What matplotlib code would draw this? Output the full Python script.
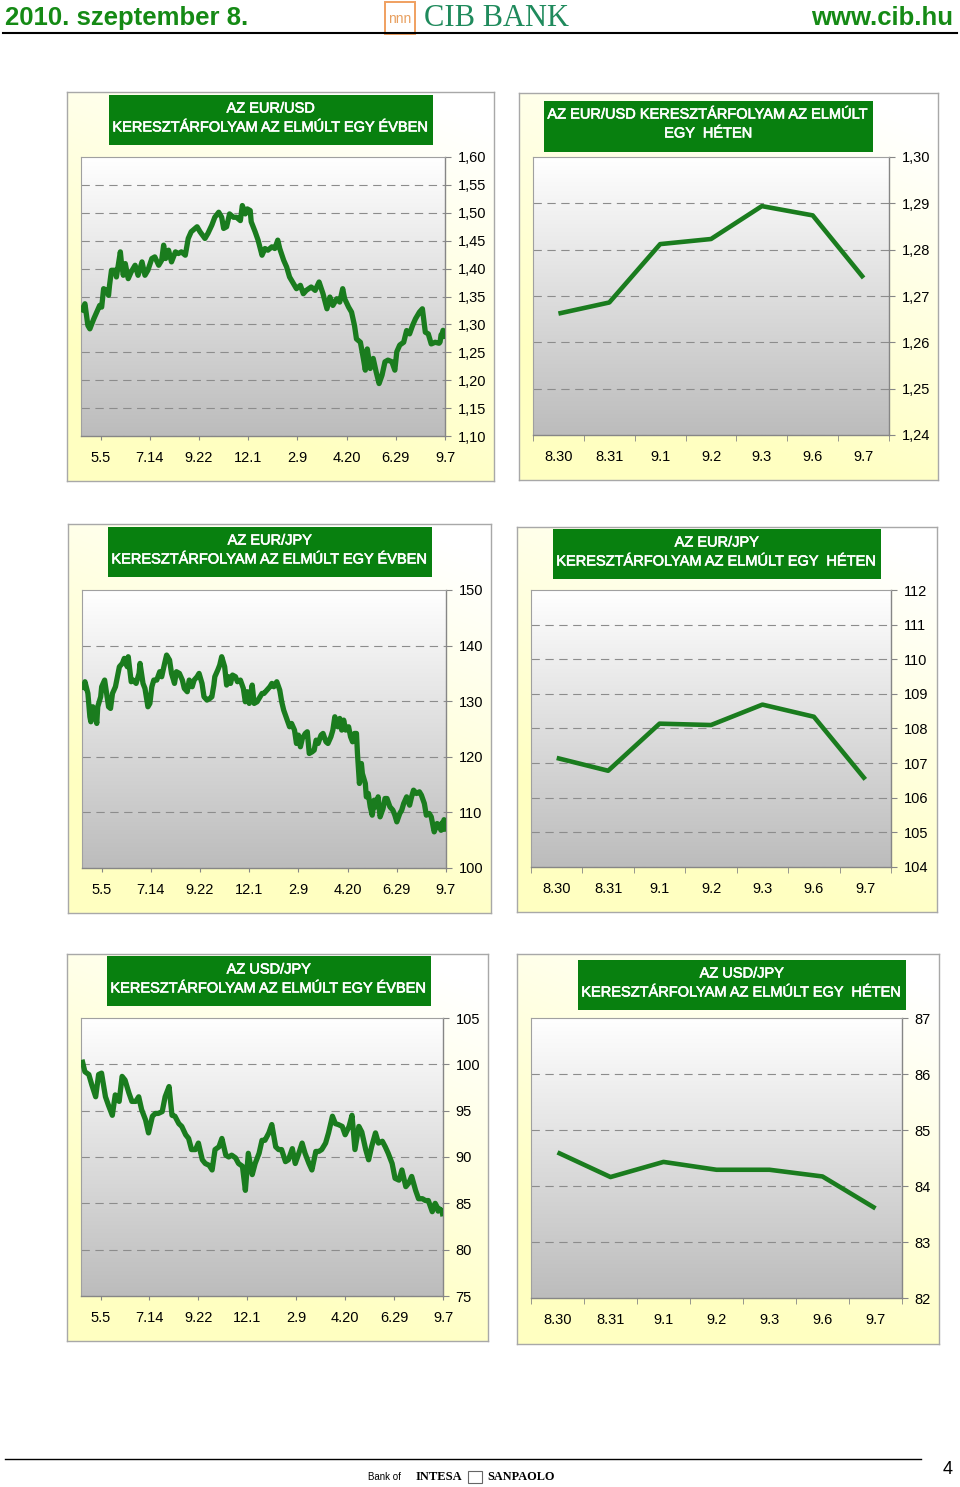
import numpy as np
import matplotlib.pyplot as plt
import matplotlib.patheffects as pe
from matplotlib.patches import Rectangle
from matplotlib.lines import Line2D
from matplotlib.colors import LinearSegmentedColormap

plt.rcParams['font.family'] = ['Liberation Sans', 'DejaVu Sans']

# ---- data -------------------------------------------------------------
year_tick_days = [20, 70, 120, 170, 220, 270, 320, 370]
year_labels = ['5.5', '7.14', '9.22', '12.1', '2.9', '4.20', '6.29', '9.7']
week_labels = ['8.30', '8.31', '9.1', '9.2', '9.3', '9.6', '9.7']

# EUR/USD, last year (business day index, rate)
eurusd_year_day = [
    0, 4, 7, 9, 13, 16, 19, 21, 23, 26,
    28, 29, 31, 35, 36, 40, 41, 43, 45, 48,
    51, 55, 58, 62, 65, 68, 72, 75, 79, 82,
    84, 86, 89, 92, 96, 99, 102, 106, 109, 112,
    118, 121, 126, 129, 133, 136, 140, 143, 145, 148,
    151, 155, 158, 162, 164, 167, 169, 172, 173, 177,
    180, 184, 187, 190, 194, 197, 200, 202, 206, 209,
    212, 216, 219, 223, 226, 229, 234, 238, 242, 246,
    250, 253, 256, 260, 263, 266, 268, 272, 275, 278,
    280, 284, 287, 289, 291, 294, 297, 300, 303, 306,
    309, 312, 316, 319, 321, 324, 328, 331, 334, 337,
    340, 344, 347, 350, 353, 356, 360, 364, 365, 366,
    367, 368, 369, 370]
eurusd_year_val = [
    1.322, 1.337, 1.298, 1.292, 1.310, 1.322, 1.334, 1.331, 1.364, 1.361,
    1.352, 1.370, 1.397, 1.397, 1.385, 1.430, 1.412, 1.388, 1.409, 1.382,
    1.394, 1.406, 1.388, 1.412, 1.388, 1.397, 1.418, 1.421, 1.406, 1.415,
    1.442, 1.418, 1.433, 1.412, 1.430, 1.427, 1.430, 1.424, 1.454, 1.466,
    1.475, 1.466, 1.454, 1.463, 1.478, 1.492, 1.501, 1.492, 1.472, 1.475,
    1.498, 1.492, 1.492, 1.486, 1.513, 1.498, 1.507, 1.504, 1.484, 1.466,
    1.451, 1.424, 1.436, 1.433, 1.439, 1.436, 1.451, 1.436, 1.415, 1.403,
    1.385, 1.373, 1.364, 1.370, 1.355, 1.361, 1.367, 1.361, 1.376, 1.355,
    1.328, 1.349, 1.334, 1.346, 1.340, 1.364, 1.346, 1.331, 1.322, 1.298,
    1.274, 1.268, 1.239, 1.218, 1.256, 1.221, 1.239, 1.215, 1.194, 1.209,
    1.233, 1.236, 1.233, 1.218, 1.251, 1.263, 1.268, 1.289, 1.283, 1.298,
    1.310, 1.322, 1.328, 1.286, 1.283, 1.265, 1.268, 1.2662, 1.2686, 1.2812,
    1.2823, 1.2894, 1.2874, 1.2739]
eurusd_week = [1.2662, 1.2686, 1.2812, 1.2823, 1.2894, 1.2874, 1.2739]

# EUR/JPY, last year
eurjpy_year_day = [
    1, 3, 6, 8, 9, 11, 13, 15, 16, 19,
    20, 23, 25, 27, 29, 31, 34, 36, 38, 41,
    43, 46, 47, 50, 52, 55, 58, 59, 62, 64,
    67, 69, 71, 73, 76, 79, 81, 84, 86, 89,
    91, 94, 96, 99, 102, 104, 107, 109, 112, 114,
    117, 119, 122, 124, 127, 130, 132, 134, 135, 138,
    140, 142, 145, 147, 149, 151, 153, 156, 158, 161,
    164, 166, 168, 170, 173, 175, 178, 180, 183, 185,
    188, 191, 193, 195, 198, 201, 203, 205, 208, 211,
    213, 216, 218, 220, 222, 224, 227, 229, 231, 234,
    236, 238, 240, 243, 245, 248, 250, 253, 255, 257,
    260, 262, 264, 266, 268, 271, 273, 275, 277, 279,
    280, 282, 284, 285, 288, 289, 291, 293, 295, 297,
    299, 301, 303, 306, 308, 310, 313, 316, 318, 320,
    323, 325, 327, 330, 333, 335, 337, 340, 343, 345,
    348, 350, 353, 355, 358, 361, 364, 365, 366, 367,
    368, 369, 370]
eurjpy_year_val = [
    132.0, 133.5, 131.4, 127.2, 126.3, 129.0, 128.1, 126.0, 129.0, 130.8,
    132.6, 133.8, 131.4, 129.0, 128.7, 131.4, 132.6, 134.4, 136.2, 136.8,
    137.7, 136.2, 138.0, 133.5, 133.8, 133.2, 135.0, 136.8, 133.2, 132.3,
    129.0, 129.6, 132.6, 133.8, 133.8, 135.3, 134.4, 136.8, 138.3, 137.4,
    135.0, 133.2, 135.3, 135.0, 133.8, 132.3, 131.7, 133.8, 132.6, 133.8,
    134.4, 135.0, 133.2, 130.8, 130.2, 130.5, 130.8, 132.9, 134.4, 135.6,
    136.5, 138.0, 136.2, 132.9, 134.4, 133.2, 134.7, 134.4, 133.5, 133.8,
    132.3, 129.9, 131.7, 129.6, 132.9, 129.6, 129.9, 130.5, 131.4, 131.4,
    132.0, 132.6, 133.2, 132.6, 133.5, 132.0, 129.9, 128.4, 126.9, 125.4,
    126.0, 124.8, 122.4, 123.9, 121.8, 123.3, 124.2, 124.5, 120.6, 120.9,
    121.2, 123.0, 122.4, 123.9, 124.2, 122.7, 122.4, 123.6, 124.8, 127.2,
    125.4, 126.9, 124.8, 126.6, 124.8, 125.4, 123.6, 122.7, 124.2, 124.2,
    120.6, 115.2, 118.8, 117.0, 115.2, 112.8, 113.4, 111.0, 109.5, 112.2,
    111.0, 112.8, 109.2, 110.7, 112.5, 112.5, 111.0, 110.4, 109.5, 108.3,
    109.8, 110.4, 111.6, 112.8, 111.3, 112.8, 114.0, 113.4, 113.7, 113.1,
    111.6, 109.5, 109.8, 109.2, 106.5, 108.0, 107.15, 106.78, 108.14, 108.10,
    108.69, 108.34, 106.53]
eurjpy_week = [107.15, 106.78, 108.14, 108.10, 108.69, 108.34, 106.53]

# USD/JPY, last year
usdjpy_year_day = [
    1, 4, 8, 11, 15, 18, 21, 25, 28, 32,
    35, 39, 42, 45, 49, 52, 56, 59, 62, 66,
    69, 73, 76, 79, 83, 86, 90, 93, 96, 100,
    103, 107, 110, 113, 117, 120, 124, 127, 131, 134,
    137, 141, 144, 148, 151, 154, 158, 161, 165, 168,
    171, 175, 178, 182, 185, 188, 192, 195, 199, 202,
    205, 209, 212, 216, 219, 222, 226, 229, 233, 236,
    240, 243, 246, 250, 253, 257, 260, 263, 267, 270,
    274, 277, 280, 284, 287, 291, 294, 297, 301, 304,
    308, 311, 314, 318, 321, 325, 328, 332, 335, 338,
    342, 345, 349, 352, 355, 359, 362, 364, 365, 366,
    367, 368, 369, 370]
usdjpy_year_val = [
    100.5, 99.2, 98.9, 97.8, 96.5, 98.9, 99.05, 96.5, 95.6, 94.5,
    96.7, 96.0, 98.7, 98.3, 96.9, 96.0, 96.0, 96.5, 95.1, 94.0,
    92.6, 94.4, 94.7, 94.7, 94.9, 96.5, 97.6, 94.5, 94.4, 93.6,
    93.3, 92.4, 92.0, 90.8, 90.8, 91.5, 89.7, 89.3, 89.1, 88.6,
    90.8, 91.1, 92.0, 90.2, 90.0, 90.2, 89.9, 89.3, 89.0, 86.4,
    90.4, 88.1, 89.3, 90.4, 91.8, 91.8, 92.6, 93.5, 91.1, 90.8,
    90.8, 89.5, 89.7, 90.9, 89.3, 90.2, 91.5, 90.4, 89.3, 88.6,
    90.6, 90.6, 90.8, 91.5, 92.6, 94.4, 93.6, 93.5, 93.3, 92.4,
    93.3, 94.5, 90.8, 93.3, 92.7, 90.8, 89.7, 91.1, 92.6, 91.5,
    91.7, 91.1, 90.4, 89.3, 87.7, 87.5, 88.6, 86.8, 87.2, 87.9,
    86.4, 85.5, 85.5, 85.3, 85.3, 84.1, 85.0, 84.60, 84.16, 84.43,
    84.29, 84.29, 84.17, 83.60]
usdjpy_week = [84.60, 84.16, 84.43, 84.29, 84.29, 84.17, 83.60]

eurusd_year_ticks = [1.10, 1.15, 1.20, 1.25, 1.30, 1.35, 1.40, 1.45, 1.50, 1.55, 1.60]
eurusd_week_ticks = [1.24, 1.25, 1.26, 1.27, 1.28, 1.29, 1.30]
eurjpy_year_ticks = [100, 110, 120, 130, 140, 150]
eurjpy_week_ticks = [104, 105, 106, 107, 108, 109, 110, 111, 112]
usdjpy_year_ticks = [75, 80, 85, 90, 95, 100, 105]
usdjpy_week_ticks = [82, 83, 84, 85, 86, 87]

# ---- styling ----------------------------------------------------------
W, H = 960, 1487
GREEN_LINE = '#1a7c1e'
GREEN_BOX = '#08800f'
GRID = '#8c8c8c'
AXIS = '#868686'

fig = plt.figure(figsize=(W / 100, H / 100), dpi=100)
fig.patch.set_facecolor('white')


def px_axes(box, **kw):
    x0, y0, x1, y1 = box
    return fig.add_axes([x0 / W, 1 - y1 / H, (x1 - x0) / W, (y1 - y0) / H], **kw)


def panel_background(box):
    ax = px_axes(box)
    v, u = np.mgrid[0:1:150j, 0:1:150j]
    w = np.clip(1.0 * v + 0.45 * (1 - u) - 0.1, 0, 1)
    img = np.ones(v.shape + (3,))
    img[..., 2] = 1.0 - 0.24 * w
    ax.imshow(img, extent=(0, 1, 0, 1), aspect='auto', interpolation='bilinear')
    ax.set_xticks([])
    ax.set_yticks([])
    for s in ax.spines.values():
        s.set_color('#a8a8a8')
        s.set_linewidth(1.0)


def title_box(box, text, line_y):
    x0, y0, x1, y1 = box
    fig.add_artist(Rectangle((x0 / W, 1 - y1 / H), (x1 - x0) / W, (y1 - y0) / H,
                             transform=fig.transFigure, facecolor=GREEN_BOX,
                             edgecolor='none', zorder=1))
    fig.text((x0 + x1) / 2 / W, 1 - line_y / H, text, ha='center', va='center',
             color='white', fontsize=10.5, linespacing=1.45, zorder=4,
             path_effects=[pe.withStroke(linewidth=0.45, foreground='white')])


grad_cmap = LinearSegmentedColormap.from_list('plotarea', ['#ffffff', '#bcbcbc'])


def chart(box, x, y, xlim, yticks, fmt, weekly):
    ax = px_axes(box)
    ylim = (yticks[0], yticks[-1])
    ax.set_xlim(xlim)
    ax.set_ylim(ylim)
    ax.imshow(np.linspace(0, 1, 256).reshape(-1, 1), cmap=grad_cmap, aspect='auto',
              extent=(xlim[0], xlim[1], ylim[0], ylim[1]), origin='upper', zorder=0)
    for t in yticks[1:-1]:
        ax.axhline(t, color=GRID, lw=0.8, ls=(0, (7.5, 5)), zorder=1)
    ax.plot(x, y, color=GREEN_LINE, lw=3.3 if weekly else 3.8,
            solid_joinstyle='round', solid_capstyle='butt', zorder=3)

    for side in ['left', 'top']:
        ax.spines[side].set_color('#a0a0a0')
        ax.spines[side].set_linewidth(0.8)
    for side in ['right', 'bottom']:
        ax.spines[side].set_color(AXIS)
        ax.spines[side].set_linewidth(1.0)

    ax.yaxis.tick_right()
    ax.set_yticks(yticks)
    ax.set_yticklabels([fmt(t) for t in yticks])
    ax.tick_params(axis='y', direction='out', length=4, color=AXIS, pad=5,
                   labelsize=10.5, labelcolor='black')

    if weekly:
        ax.set_xticks(range(len(week_labels)))
        ax.set_xticklabels(week_labels)
        ax.set_xticks(np.arange(-0.5, len(week_labels)), minor=True)
        ax.tick_params(axis='x', which='major', length=0, pad=11, labelsize=10.5)
        ax.tick_params(axis='x', which='minor', direction='out', length=4, color=AXIS)
    else:
        ax.set_xticks(year_tick_days)
        ax.set_xticklabels(year_labels)
        ax.tick_params(axis='x', direction='out', length=3, color=AXIS, pad=8,
                       labelsize=10.5)
    return ax


comma2 = lambda t: f'{t:.2f}'.replace('.', ',')
whole = lambda t: f'{t:.0f}'
year_xlim = (0, 370)
week_xlim = (-0.5, 6.5)
week_x = list(range(len(week_labels)))

# ---- panels -----------------------------------------------------------
panel_background((67, 92, 494, 481))
title_box((109, 95, 433, 145), 'AZ EUR/USD\nKERESZTÁRFOLYAM AZ ELMÚLT EGY ÉVBEN', 118)
chart((81, 157, 445, 436), eurusd_year_day, eurusd_year_val, year_xlim,
      eurusd_year_ticks, comma2, False)

panel_background((519, 93, 938, 480))
title_box((544, 101, 873, 152), 'AZ EUR/USD KERESZTÁRFOLYAM AZ ELMÚLT\nEGY  HÉTEN', 124)
chart((533, 157, 889, 435), week_x, eurusd_week, week_xlim,
      eurusd_week_ticks, comma2, True)

panel_background((68, 524, 491, 913))
title_box((108, 527, 432, 577), 'AZ EUR/JPY\nKERESZTÁRFOLYAM AZ ELMÚLT EGY ÉVBEN', 550)
chart((82, 590, 446, 868), eurjpy_year_day, eurjpy_year_val, year_xlim,
      eurjpy_year_ticks, whole, False)

panel_background((517, 527, 937, 912))
title_box((553, 529, 881, 579), 'AZ EUR/JPY\nKERESZTÁRFOLYAM AZ ELMÚLT EGY  HÉTEN', 552)
chart((531, 590, 891, 867), week_x, eurjpy_week, week_xlim,
      eurjpy_week_ticks, whole, True)

panel_background((67, 954, 488, 1341))
title_box((107, 956, 431, 1006), 'AZ USD/JPY\nKERESZTÁRFOLYAM AZ ELMÚLT EGY ÉVBEN', 979)
chart((81, 1018, 443, 1296), usdjpy_year_day, usdjpy_year_val, year_xlim,
      usdjpy_year_ticks, whole, False)

panel_background((517, 954, 939, 1344))
title_box((578, 960, 906, 1010), 'AZ USD/JPY\nKERESZTÁRFOLYAM AZ ELMÚLT EGY  HÉTEN', 983)
chart((531, 1018, 902, 1298), week_x, usdjpy_week, week_xlim,
      usdjpy_week_ticks, whole, True)

# ---- header -----------------------------------------------------------
fig.text(5 / W, 1 - 18 / H, '2010. szeptember 8.', fontsize=18.5, weight='bold',
         color='#158a15', ha='left', va='center')
fig.text(953 / W, 1 - 18 / H, 'www.cib.hu', fontsize=18.5, weight='bold',
         color='#158a15', ha='right', va='center')
fig.add_artist(Rectangle((385 / W, 1 - 34 / H), 30 / W, 32 / H, transform=fig.transFigure,
                         facecolor='white', edgecolor='#f0a060', lw=1.4))
fig.text(400 / W, 1 - 19 / H, 'nnn', fontsize=10, color='#e8a060', ha='center', va='center')
fig.text(497 / W, 1 - 18 / H, 'CIB BANK', fontsize=22, color='#1f8a5c',
         family=['Liberation Serif', 'DejaVu Serif'], ha='center', va='center')
fig.add_artist(Line2D([3 / W, 957 / W], [1 - 33 / H, 1 - 33 / H], transform=fig.transFigure,
                      color='black', lw=1.5))

# ---- footer -----------------------------------------------------------
fig.add_artist(Line2D([5 / W, 921 / W], [1 - 1459 / H, 1 - 1459 / H],
                      transform=fig.transFigure, color='black', lw=1.0))
fig.text(368 / W, 1 - 1477 / H, 'Bank of', fontsize=7, ha='left', va='center')
fig.text(416 / W, 1 - 1477 / H, 'INTESA', fontsize=9, weight='bold',
         family=['Liberation Serif', 'DejaVu Serif'], ha='left', va='center')
fig.add_artist(Rectangle((468 / W, 1 - 1483 / H), 14 / W, 12 / H, transform=fig.transFigure,
                         facecolor='white', edgecolor='#666666', lw=0.8))
fig.text(487 / W, 1 - 1477 / H, 'SANPAOLO', fontsize=8.8, weight='bold',
         family=['Liberation Serif', 'DejaVu Serif'], ha='left', va='center')
fig.text(948 / W, 1 - 1470 / H, '4', fontsize=13, ha='center', va='center')

fig.savefig('out.png', dpi=100)
